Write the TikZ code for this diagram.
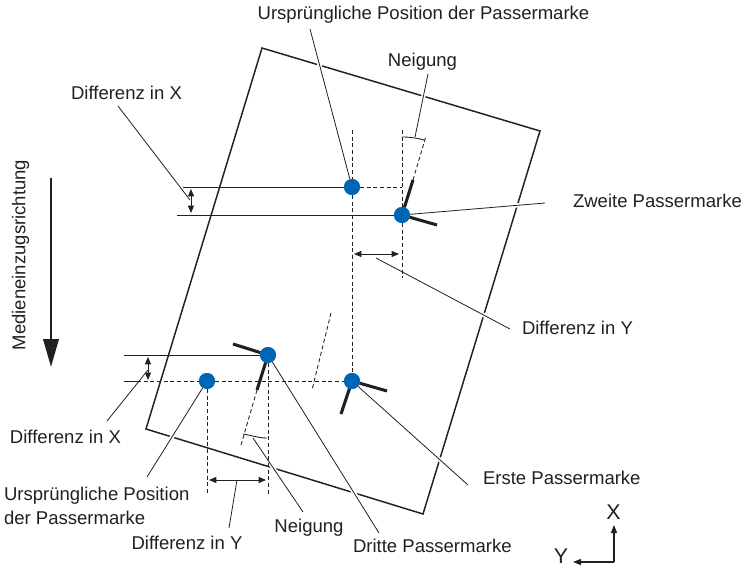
\documentclass[tikz,border=0pt]{standalone}
\usepackage{fontspec}
\setmainfont{Liberation Sans}
\usetikzlibrary{arrows.meta}
\definecolor{markblue}{HTML}{0066B3}
\definecolor{txt}{HTML}{231F20}
\tikzset{
  x=0.75pt,y=-0.75pt,
  lbl/.style={inner sep=0pt,outer sep=0pt,text=txt,font=\fontsize{13.9}{18}\selectfont,align=left},
  axislbl/.style={inner sep=0pt,outer sep=0pt,text=txt,font=\fontsize{16}{20}\selectfont},
  dot/.style={circle,fill=markblue,draw=none,minimum size=12pt,inner sep=0pt,outer sep=0pt},
  leader/.style={draw=txt,line width=0.6pt,preaction={draw=white,line width=3.2pt}},
  thinline/.style={draw=txt,line width=0.65pt},
  dashline/.style={draw=txt,line width=0.65pt,dash pattern=on 3pt off 2pt},
  thickmark/.style={draw=txt,line width=2.3pt},
  sheet/.style={draw=txt,line width=1.1pt,line join=miter},
  dbl/.style={draw=txt,line width=0.7pt,{Triangle[length=5.5pt,width=4.5pt]}-{Triangle[length=5.5pt,width=4.5pt]}},
  sgl/.style={draw=txt,line width=0.8pt,-{Triangle[length=6pt,width=4.5pt]}},
}
\begin{document}
\begin{tikzpicture}
\useasboundingbox (0,0) rectangle (744,568);
% sheet
\coordinate (s1) at (262,48);
\coordinate (s2) at (540,131);
\coordinate (s3) at (423,514);
\coordinate (s4) at (146,429);
\draw[sheet] (s1) -- (s2) -- (s3) -- (s4) -- cycle;
% marks
\node[dot] (m0) at (352,187) {};
\node[dot] (m2) at (402,215) {};
\node[dot] (m3) at (268,355) {};
\node[dot] (m4) at (207,381) {};
\node[dot] (m1) at (352,381) {};
% labels
\node[lbl,anchor=center] (tUrspTop) at (423.5,15) {Ursprüngliche Position der Passermarke};
\node[lbl,anchor=center] (tNeigTop) at (422.5,62) {Neigung};
\node[lbl,anchor=center] (tDxTop) at (126.5,93) {Differenz in X};
\node[lbl,anchor=west] (tZweite) at (573,201) {Zweite Passermarke};
\node[lbl,anchor=west] (tDyR) at (522,328) {Differenz in Y};
\node[lbl,anchor=west] (tDxLow) at (10,437) {Differenz in X};
\node[lbl,anchor=west] (tUrspLow) at (4,505.5) {Ursprüngliche Position\\der Passermarke};
\node[lbl,anchor=center] (tDyLow) at (187,543) {Differenz in Y};
\node[lbl,anchor=center] (tNeigLow) at (309,528) {Neigung};
\node[lbl,anchor=west] (tDritte) at (353,546) {Dritte Passermarke};
\node[lbl,anchor=west] (tErste) at (483,478) {Erste Passermarke};
\node[lbl,anchor=center,rotate=90] (tMedien) at (20.5,255) {Medieneinzugsrichtung};
\node[axislbl] (tX) at (613.5,512) {X};
\node[axislbl] (tY) at (561,556) {Y};
% leader free ends
\coordinate (lUrspTop) at (310,29);
\coordinate (lNeigA) at (415,137);
\coordinate (lNeigB) at (428,74);
\coordinate (lDxA) at (118,106);
\coordinate (lDxB) at (190,200);
\coordinate (lZw) at (545,203);
\coordinate (lDyA) at (376,258);
\coordinate (lDyB) at (510,329);
\coordinate (lDxLA) at (148,370);
\coordinate (lDxLB) at (107,421);
\coordinate (lUL) at (147,477);
\coordinate (lDyLA) at (237,480);
\coordinate (lDyLB) at (229,528);
\coordinate (lNLA) at (253,438);
\coordinate (lNLB) at (303,512);
\coordinate (lDr) at (379,533);
\coordinate (lEr) at (468,485);
% leaders
\draw[leader] (m0) -- (lUrspTop);
\draw[leader] (lNeigA) -- (lNeigB);
\draw[leader] (lDxA) -- (lDxB);
\draw[leader] (m2) -- (lZw);
\draw[leader] (lDyA) -- (lDyB);
\draw[leader] (lDxLA) -- (lDxLB);
\draw[leader] (m4) -- (lUL);
\draw[leader] (lDyLA) -- (lDyLB);
\draw[leader] (lNLA) -- (lNLB);
\draw[leader] (m3) -- (lDr);
\draw[leader] (m1) -- (lEr);
% reference lines
\coordinate (a1) at (183,187);
\coordinate (a2) at (177,215);
\coordinate (a3) at (124,355);
\coordinate (a4) at (124,381);
\coordinate (a5) at (137,381);
\draw[thinline] (a1) -- (m0);
\draw[thinline] (a2) -- (m2);
\draw[thinline] (a3) -- (m3);
\draw[thinline] (a4) -- (a5);
\draw[dashline] (a5) -- (m4);
\draw[dashline] (m4) -- (m1);
\coordinate (v0) at (352,130);
\coordinate (v2) at (402,130);
\coordinate (v2b) at (402,278);
\coordinate (v3b) at (268,495);
\coordinate (v4b) at (207,495);
\coordinate (d02) at (402,187);
\draw[dashline] (v0) -- (m0);
\draw[dashline] (m0) -- (m1);
\draw[dashline] (m0) -- (d02);
\draw[dashline] (v2) -- (m2);
\draw[dashline] (m2) -- (v2b);
\draw[dashline] (m3) -- (v3b);
\draw[dashline] (m4) -- (v4b);
% tilt marks
\coordinate (t2a) at (413,180);
\coordinate (t2b) at (437,225);
\coordinate (t2c) at (426,136);
\coordinate (t3a) at (233,344);
\coordinate (t3b) at (257,390);
\coordinate (t3c) at (241,445);
\coordinate (t1a) at (387,391);
\coordinate (t1b) at (341,414);
\coordinate (p1) at (331,313);
\coordinate (p2) at (312,390);
\draw[dashline] (t2a) -- (t2c);
\draw[dashline] (t3b) -- (t3c);
\draw[dashline] (p1) -- (p2);
\coordinate (c2a) at (402,137);
\coordinate (c2b) at (424,140);
\coordinate (c3a) at (243,434);
\coordinate (c3b) at (267,438);
\draw[thinline] (c2a) .. controls (410,137) and (417,138) .. (c2b);
\draw[thinline] (c3a) .. controls (250,435) and (258,438) .. (c3b);
\draw[thickmark] (m2) -- (t2a);
\draw[thickmark] (m2) -- (t2b);
\draw[thickmark] (m3) -- (t3a);
\draw[thickmark] (m3) -- (t3b);
\draw[thickmark] (m1) -- (t1a);
\draw[thickmark] (m1) -- (t1b);
\node[dot] at (m0) {};
\node[dot] at (m2) {};
\node[dot] at (m3) {};
\node[dot] at (m4) {};
\node[dot] at (m1) {};
% difference arrows
\coordinate (e1a) at (191,189); \coordinate (e1b) at (191,213);
\coordinate (e2a) at (148,357); \coordinate (e2b) at (148,380);
\coordinate (e3a) at (354,254); \coordinate (e3b) at (399,254);
\coordinate (e4a) at (209,480); \coordinate (e4b) at (266,480);
\draw[dbl] (e1a) -- (e1b);
\draw[dbl] (e2a) -- (e2b);
\draw[dbl] (e3a) -- (e3b);
\draw[dbl] (e4a) -- (e4b);
% feed arrow
\coordinate (f1) at (51,178);
\coordinate (f2) at (51,367);
\draw[draw=txt,line width=2pt,-{Triangle[length=21pt,width=11.5pt]}] (f1) -- (f2);
% axes
\coordinate (o) at (614,562);
\coordinate (ox) at (614,525);
\coordinate (oy) at (573,562);
\draw[sgl] (o) -- (ox);
\draw[sgl] (o) -- (oy);
\end{tikzpicture}
\end{document}
